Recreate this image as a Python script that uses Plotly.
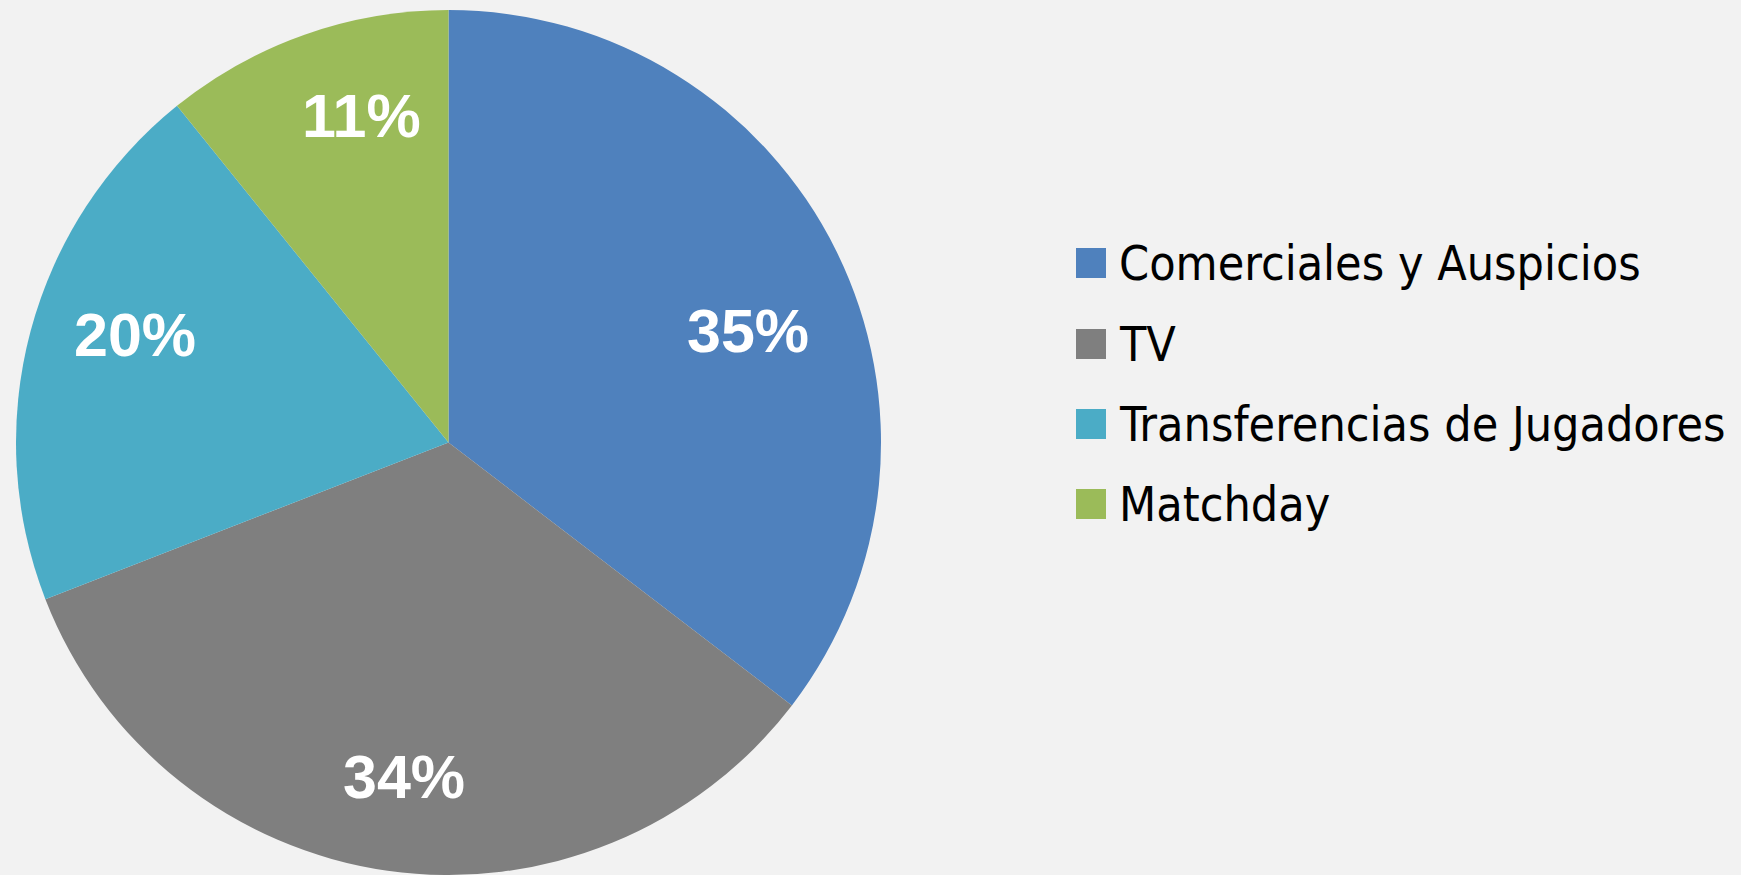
import math
import plotly.graph_objects as go

labels = ["Comerciales y Auspicios", "TV", "Transferencias de Jugadores", "Matchday"]
values = [35.4, 33.7, 20.1, 10.8]
colors = ["#4f81bd", "#7f7f7f", "#4bacc6", "#9bbb59"]

W, H = 1741, 875
DX0, DX1 = 16, 881          # pie domain in px (x)
DY0, DY1 = 0, 865           # pie domain in px (y, from bottom)
LABEL_R = [0.74, 0.78, 0.766, 0.78]     # label radius as fraction of pie radius
LABEL_F = [0.546, 0.496, 0.555, 0.617]  # label angular position within slice (0..1)

fig = go.Figure()
fig.add_trace(go.Pie(
    labels=labels, values=values, sort=False, direction="clockwise", rotation=0,
    marker=dict(colors=colors, line=dict(width=0)),
    textinfo="none",
    domain=dict(x=[DX0 / W, DX1 / W], y=[DY0 / H, DY1 / H]),
    showlegend=False, hoverinfo="label+percent",
))

cx = (DX0 + DX1) / 2
cy = (DY0 + DY1) / 2          # from bottom
R = min(DX1 - DX0, DY1 - DY0) / 2
total = sum(values)
annotations = []
cum = 0.0
for v, rf, af in zip(values, LABEL_R, LABEL_F):
    ang = (cum + v * af) / total * 2 * math.pi
    cum += v
    x = cx + rf * R * math.sin(ang)
    y = cy + rf * R * math.cos(ang)
    annotations.append(dict(xref="paper", yref="paper", x=x / W, y=y / H,
                            xanchor="center", yanchor="middle", showarrow=False,
                            text=f"{round(v / total * 100)}%",
                            font=dict(family="Liberation Sans", size=61, color="white", weight="bold")))

# custom legend
shapes = []
row_y = [263, 344, 424, 504]
for lab, col, ry in zip(labels, colors, row_y):
    shapes.append(dict(type="rect", xref="paper", yref="paper",
                       x0=1076 / W, x1=1106 / W, y0=(H - ry - 15) / H, y1=(H - ry + 15) / H,
                       fillcolor=col, line=dict(width=0)))
    annotations.append(dict(xref="paper", yref="paper", x=1117 / W, y=(H - ry) / H,
                            xanchor="left", yanchor="middle", showarrow=False, text=lab,
                            font=dict(family="Liberation Sans Narrow, DejaVu Sans Condensed", size=48, color="black")))

fig.update_layout(
    width=W, height=H, margin=dict(l=0, r=0, t=0, b=0),
    paper_bgcolor="#f2f2f2", plot_bgcolor="#f2f2f2",
    shapes=shapes, annotations=annotations,
)
fig.write_html("out.html", config={"displayModeBar": False},
               post_script="document.body.style.margin='0';document.body.style.background='#f2f2f2';")
